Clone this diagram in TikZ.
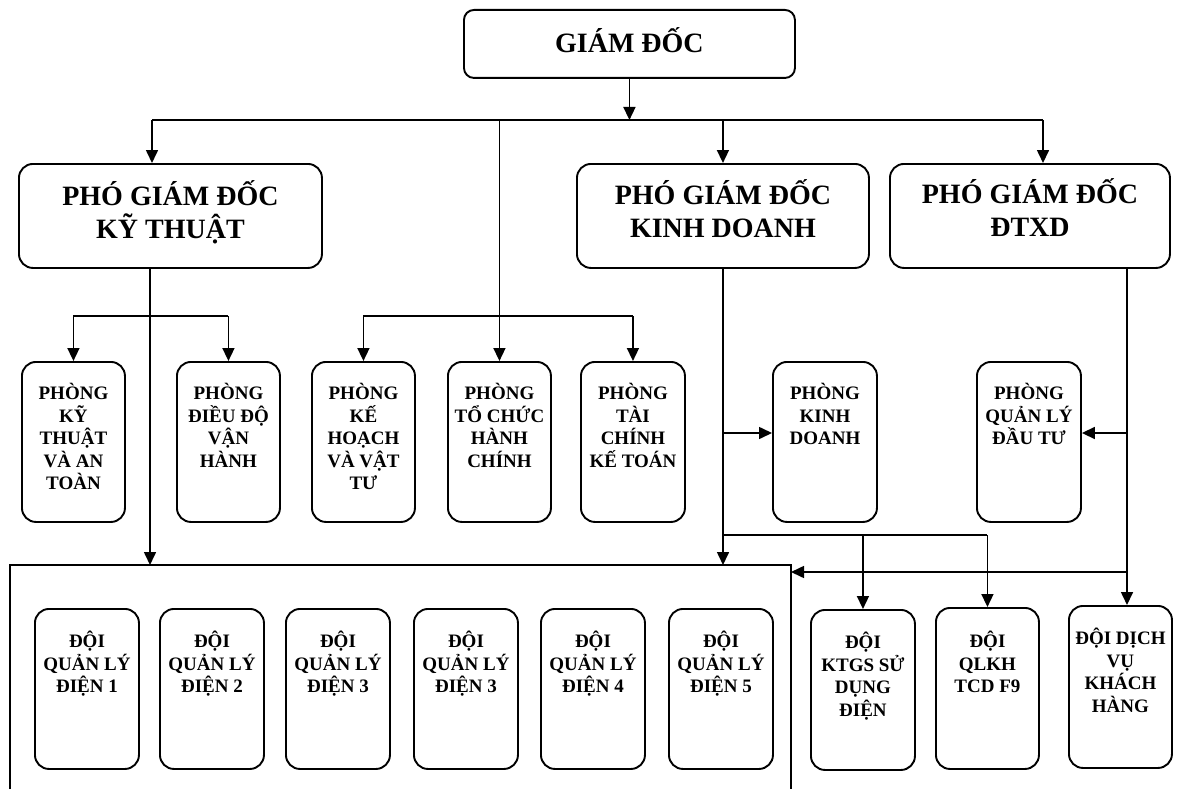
\documentclass[tikz,border=0pt]{standalone}
\usepackage{fontspec}
\setmainfont{Liberation Serif}
\usetikzlibrary{arrows.meta}
\newcommand\boxtext[4]{\begin{minipage}[c][#2][t]{#1}\centering\rule{0pt}{#3}#4\end{minipage}}
\tikzset{
  rb/.style={draw, line width=1.9pt, rounded corners=14pt, anchor=north west, inner sep=0pt,
    font=\fontsize{19}{22.4}\selectfont\bfseries},
  rbig/.style={rb, font=\fontsize{28}{33}\selectfont\bfseries},
  ln/.style={line width=1.6pt},
  arr/.style={ln, -{Triangle[width=12pt,length=13pt]}},
  bigln/.style={line width=1.6pt},
}
\begin{document}
\begin{tikzpicture}[x=1pt,y=-1pt]
\useasboundingbox (0,0) rectangle (1182,789);
% top level
\node[rbig, rounded corners=10pt] (gd) at (463,9) {\boxtext{331pt}{68pt}{43pt}{GIÁM ĐỐC}};
\node[rbig] (kt) at (18,163) {\boxtext{303pt}{104pt}{42pt}{PHÓ GIÁM ĐỐC\\KỸ THUẬT}};
\node[rbig] (kd) at (576,163) {\boxtext{292pt}{104pt}{41pt}{PHÓ GIÁM ĐỐC\\KINH DOANH}};
\node[rbig] (dt) at (889,163) {\boxtext{280pt}{104pt}{40pt}{PHÓ GIÁM ĐỐC\\ĐTXD}};
% phong
\node[rb] (p1) at (21,361) {\boxtext{103pt}{160pt}{38pt}{PHÒNG\\KỸ\\THUẬT\\VÀ AN\\TOÀN}};
\node[rb] (p2) at (176,361) {\boxtext{103pt}{160pt}{38pt}{PHÒNG\\ĐIỀU ĐỘ\\VẬN\\HÀNH}};
\node[rb] (p3) at (311,361) {\boxtext{103pt}{160pt}{38pt}{PHÒNG\\KẾ\\HOẠCH\\VÀ VẬT\\TƯ}};
\node[rb] (p4) at (447,361) {\boxtext{103pt}{160pt}{38pt}{PHÒNG\\TỔ CHỨC\\HÀNH\\CHÍNH}};
\node[rb] (p5) at (580,361) {\boxtext{104pt}{160pt}{38pt}{PHÒNG\\TÀI\\CHÍNH\\KẾ TOÁN}};
\node[rb] (pkd) at (772,361) {\boxtext{104pt}{160pt}{38pt}{PHÒNG\\KINH\\DOANH}};
\node[rb] (pqd) at (976,361) {\boxtext{104pt}{160pt}{38pt}{PHÒNG\\QUẢN LÝ\\ĐẦU TƯ}};
% doi
\node[rb] (d1) at (34,608) {\boxtext{104pt}{160pt}{39pt}{ĐỘI\\QUẢN LÝ\\ĐIỆN 1}};
\node[rb] (d2) at (159,608) {\boxtext{104pt}{160pt}{39pt}{ĐỘI\\QUẢN LÝ\\ĐIỆN 2}};
\node[rb] (d3) at (285,608) {\boxtext{104pt}{160pt}{39pt}{ĐỘI\\QUẢN LÝ\\ĐIỆN 3}};
\node[rb] (d4) at (413,608) {\boxtext{104pt}{160pt}{39pt}{ĐỘI\\QUẢN LÝ\\ĐIỆN 3}};
\node[rb] (d5) at (540,608) {\boxtext{104pt}{160pt}{39pt}{ĐỘI\\QUẢN LÝ\\ĐIỆN 4}};
\node[rb] (d6) at (668,608) {\boxtext{104pt}{160pt}{39pt}{ĐỘI\\QUẢN LÝ\\ĐIỆN 5}};
\node[rb] (dk) at (810,609) {\boxtext{104pt}{160pt}{39pt}{ĐỘI\\KTGS SỬ\\DỤNG\\ĐIỆN}};
\node[rb] (dq) at (935,607) {\boxtext{103pt}{161pt}{40pt}{ĐỘI\\QLKH\\TCD F9}};
\node[rb] (dv) at (1068,605) {\boxtext{103pt}{162pt}{39pt}{ĐỘI DỊCH\\VỤ\\KHÁCH\\HÀNG}};
% big frame
\coordinate (bigTL) at (10,565);
\coordinate (bigTR) at (791,565);
\draw[bigln] (bigTL |- 0,789) -- (bigTL) -- (bigTR) -- (bigTR |- 0,789);
% top bus
\coordinate (bL) at (152,120);
\coordinate (bR) at (1043,120);
\draw[arr] (gd.south) -- (gd.south |- bL);
\draw[ln] (bL) -- (bR);
\draw[arr] (bL) -- (bL |- kt.north);
\draw[arr] (kd.north |- bL) -- (kd.north);
\draw[arr] (bR) -- (bR |- dt.north);
% middle phong branch
\coordinate (br) at (0,316);
\draw[arr] (p4.north |- bL) -- (p4.north);
\draw[ln] (p3.north |- br) -- (p5.north |- br);
\draw[arr] (p3.north |- br) -- (p3.north);
\draw[arr] (p5.north |- br) -- (p5.north);
% KT
\coordinate (ktx) at (150,267);
\draw[arr] (ktx) -- (ktx |- bigTL);
\draw[ln] (p1.north |- br) -- (p2.north |- br);
\draw[arr] (p1.north |- br) -- (p1.north);
\draw[arr] (p2.north |- br) -- (p2.north);
% KD
\coordinate (kdx) at (723,267);
\coordinate (mid) at (0,433);
\coordinate (kb) at (0,535);
\draw[arr] (kdx) -- (kdx |- bigTL);
\draw[arr] (kdx |- mid) -- (pkd.west |- mid);
\draw[ln] (kdx |- kb) -- (dq.north |- kb);
\draw[arr] (dk.north |- kb) -- (dk.north);
\draw[arr] (dq.north |- kb) -- (dq.north);
% DTXD
\coordinate (dtx) at (1127,267);
\coordinate (rb2) at (0,572);
\draw[arr] (dtx) -- (dtx |- dv.north);
\draw[arr] (dtx |- mid) -- (pqd.east |- mid);
\draw[arr] (dtx |- rb2) -- (bigTR |- rb2);
\end{tikzpicture}
\end{document}
